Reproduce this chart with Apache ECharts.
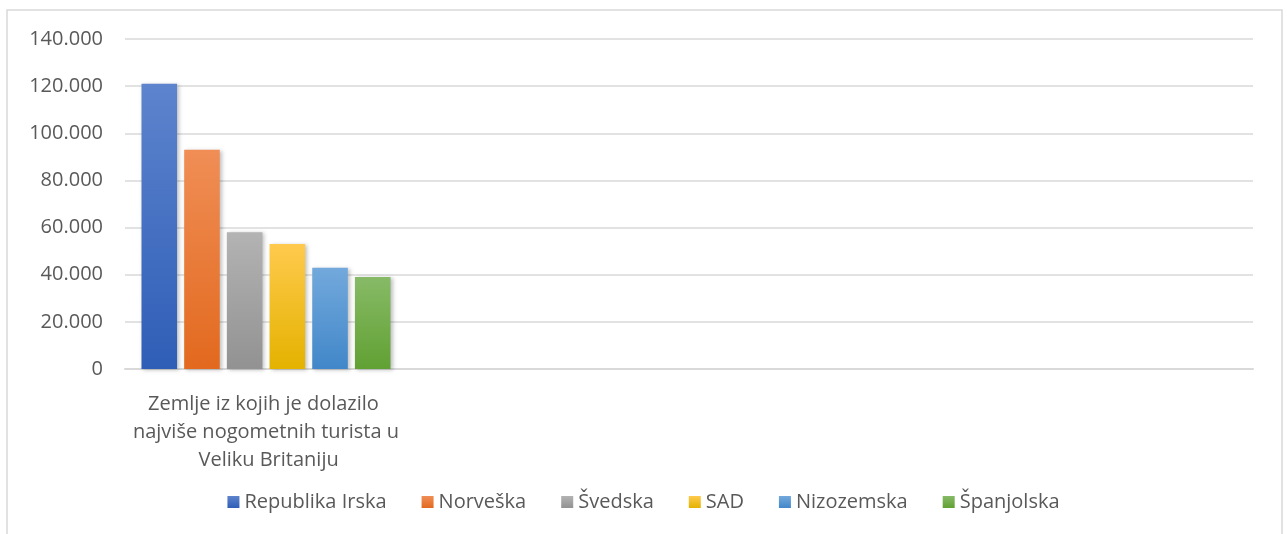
<!DOCTYPE html>
<html>
<head>
<meta charset="utf-8">
<script src="https://cdn.jsdelivr.net/npm/echarts@6/dist/echarts.min.js"></script>
<style>
  html, body { margin: 0; padding: 0; background: #fff; }
  #chart { width: 1287px; height: 534px; }
</style>
</head>
<body>
<div id="chart"></div>
<script type="text/javascript">
var categories = ['Zemlje iz kojih je dolazilo najviše nogometnih turista u Veliku Britaniju', '', '', ''];
var countries = ['Republika Irska', 'Norveška', 'Švedska', 'SAD', 'Nizozemska', 'Španjolska'];
var values = [121000, 93000, 58000, 53000, 43000, 39000];
var yTicks = [0, 20000, 40000, 60000, 80000, 100000, 120000, 140000];

// top / bottom of each bar's gradient
var topColors = ['#5d84cd', '#f08e56', '#b3b3b3', '#ffca4d', '#73a9dc', '#87ba67'];
var bottomColors = ['#2f5eb7', '#e2691e', '#929292', '#e4b200', '#4187c9', '#61a133'];

var textColor = '#595959';
var font = '"Open Sans", "Noto Sans", sans-serif';

function grad(i) {
    return new echarts.graphic.LinearGradient(0, 0, 0, 1, [
        { offset: 0, color: topColors[i] },
        { offset: 1, color: bottomColors[i] }
    ]);
}

function dots(v) {
    return String(v).replace(/\B(?=(\d{3})+(?!\d))/g, '.');
}

var series = countries.map(function (name, i) {
    return {
        name: name,
        type: 'bar',
        data: [values[i]],
        barGap: '20%',
        barCategoryGap: '11.7%',
        itemStyle: {
            color: grad(i),
            shadowBlur: 4,
            shadowOffsetX: 2,
            shadowOffsetY: 1,
            shadowColor: 'rgba(0,0,0,0.25)'
        }
    };
});

var chart = echarts.init(document.getElementById('chart'));
chart.setOption({
    animation: false,
    textStyle: { fontFamily: font },
    graphic: [{
        type: 'rect',
        shape: { x: 7, y: 10, width: 1275, height: 540 },
        style: { fill: 'none', stroke: '#d9d9d9', lineWidth: 1.5 },
        silent: true
    }],
    grid: { left: 125, right: 34, top: 39, bottom: 165 },
    legend: {
        bottom: 17,
        left: 'center',
        icon: 'rect',
        itemWidth: 12,
        itemHeight: 12,
        itemGap: 35,
        textStyle: { color: textColor, fontSize: 20, fontFamily: font },
        data: countries
    },
    xAxis: {
        type: 'category',
        data: categories,
        axisTick: { show: false },
        axisLine: { lineStyle: { color: '#d9d9d9', width: 2 } },
        axisLabel: {
            color: textColor,
            fontSize: 20,
            margin: 21,
            lineHeight: 28,
            width: 280,
            overflow: 'break',
            interval: 0
        }
    },
    yAxis: {
        type: 'value',
        min: yTicks[0],
        max: yTicks[yTicks.length - 1],
        interval: yTicks[1] - yTicks[0],
        axisLine: { show: false },
        axisTick: { show: false },
        splitLine: { lineStyle: { color: '#d9d9d9', width: 1.5 } },
        axisLabel: {
            color: textColor,
            fontSize: 20,
            margin: 22,
            formatter: dots
        }
    },
    series: series
});
</script>
</body>
</html>
